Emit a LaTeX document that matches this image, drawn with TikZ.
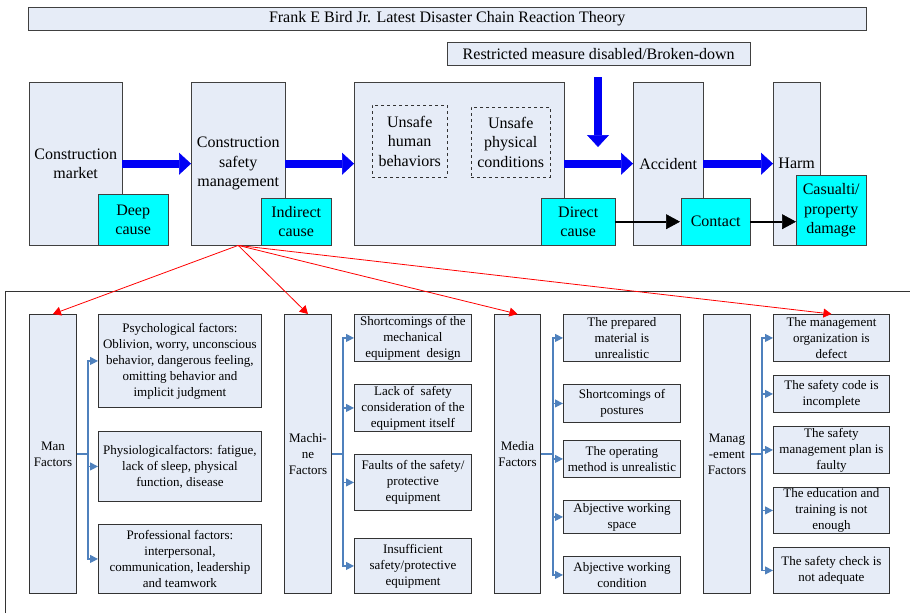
\documentclass[tikz,border=0pt]{standalone}
\usepackage{fontspec}
\setmainfont{Liberation Serif}
\usetikzlibrary{arrows.meta,positioning}
\definecolor{boxfill}{RGB}{230,236,247}
\definecolor{causecyan}{RGB}{0,255,255}
\definecolor{fatblue}{RGB}{0,0,245}
\definecolor{linkblue}{RGB}{79,129,189}

\begin{document}
\begin{tikzpicture}[x=1pt,y=-1pt]
\tikzstyle{box}=[draw=black!75,fill=boxfill,anchor=north west,inner sep=1pt,align=center,font=\fontsize{16}{19.5}\selectfont]
\tikzstyle{cause}=[box,fill=causecyan]
\tikzstyle{hazard}=[box,dashed,draw=black!80]
\tikzstyle{factor}=[box,draw=black!80,line width=0.9pt,font=\fontsize{13}{16}\selectfont]
\tikzstyle{fat}=[line width=8pt,fatblue,-{Triangle[length=12pt,width=22pt,line width=0.6pt]}]
\tikzstyle{push}=[line width=2.4pt,-{Triangle[length=14pt,width=15pt,line width=0.5pt]}]
\tikzstyle{lead}=[red,line width=0.8pt,-{Triangle[length=8pt,width=9pt]}]
\tikzstyle{link}=[linkblue,line width=1.2pt,-{Triangle[length=8pt,width=8pt]}]

\useasboundingbox (0,0) rectangle (910,613);

% chain of the theory
\node [box,minimum width=838pt,minimum height=23pt] (title) at (28,7) {Frank E Bird Jr. Latest Disaster Chain Reaction Theory};
\node [box,minimum width=303pt,minimum height=23pt] (restrict) at (447,42) {Restricted measure disabled/Broken-down};

\node [box,minimum width=93pt,minimum height=163pt] (cm) at (29,82) {Construction\\market};
\node [box,minimum width=94pt,minimum height=163pt] (csm) at (191,82) {Construction\\safety\\management};
\node [box,minimum width=210pt,minimum height=163pt] (unsafe) at (354,82) {};
\node [box,minimum width=70pt,minimum height=163pt] (acc) at (633,82) {Accident};
\node [box,minimum width=47pt,minimum height=163pt] (harm) at (773,82) {Harm};

\node [hazard,minimum width=75pt,minimum height=72pt] (uhb) at (372,105) {Unsafe\\human\\behaviors};
\node [hazard,minimum width=79pt,minimum height=70pt] (upc) at (471,107) {Unsafe\\physical\\conditions};

\node [cause,minimum width=70pt,minimum height=51pt] (deep) at (98,194) {Deep\\cause};
\node [cause,minimum width=70pt,minimum height=47pt] (indirect) at (261,198) {Indirect\\cause};
\node [cause,minimum width=74pt,minimum height=47pt] (direct) at (541,198) {Direct\\cause};

\coordinate (dtop) at (598,77);
\coordinate (dtip) at (598,147);

\draw [fat] (cm.east) -- (csm.west);
\draw [fat] (csm.east) -- (unsafe.west);
\draw [fat] (unsafe.east) -- (acc.west);
\draw [fat] (acc.east) -- (harm.west);
\draw [fat] (dtop) -- (dtip);

\draw [push] (direct.east) -- (acc.west |- direct.east) -- ++(47pt,0);
\node [cause,minimum width=69pt,minimum height=47pt] (contact) at (681,198) {Contact};
\node [cause,minimum width=70pt,minimum height=70pt] (casualty) at (796,175) {Casualti/\\property\\damage};
\draw [push] (contact.east) -- (contact.east -| casualty.west);

% the four factors
\draw [black!80,line width=0.9pt] (5,613) -- (5,291) -- (910,291);

\node [factor,minimum width=47pt,minimum height=279pt] (man) at (29,314) {Man\\Factors};
\node [factor,minimum width=163pt,minimum height=93pt] (man1) at (98,314) {Psychological factors:\\Oblivion, worry, unconscious\\behavior, dangerous feeling,\\omitting behavior and\\implicit judgment};
\node [factor,minimum width=163pt,minimum height=70pt] (man2) at (98,431) {Physiologicalfactors: fatigue,\\lack of sleep, physical\\function, disease};
\node [factor,minimum width=163pt,minimum height=69pt] (man3) at (98,524) {Professional factors:\\interpersonal,\\communication, leadership\\and teamwork};

\node [factor,minimum width=47pt,minimum height=279pt] (mach) at (284,314) {Machi-\\ne\\Factors};
\node [factor,minimum width=117pt,minimum height=47pt] (mach1) at (354,314) {Shortcomings of the\\mechanical\\equipment\ \ design};
\node [factor,minimum width=117pt,minimum height=47pt] (mach2) at (354,384) {Lack of\ \ safety\\consideration of the\\equipment itself};
\node [factor,minimum width=117pt,minimum height=56pt] (mach3) at (354,454) {Faults of the safety/\\protective\\equipment};
\node [factor,minimum width=117pt,minimum height=55pt] (mach4) at (354,538) {Insufficient\\safety/protective\\equipment};

\node [factor,minimum width=46pt,minimum height=279pt] (media) at (494,314) {Media\\Factors};
\node [factor,minimum width=117pt,minimum height=47pt] (media1) at (563,314) {The prepared\\material is\\unrealistic};
\node [factor,minimum width=117pt,minimum height=38pt] (media2) at (563,384) {Shortcomings of\\postures};
\node [factor,minimum width=117pt,minimum height=37pt] (media3) at (563,440) {The operating\\method is unrealistic};
\node [factor,minimum width=117pt,minimum height=33pt] (media4) at (563,500) {Abjective working\\space};
\node [factor,minimum width=117pt,minimum height=37pt] (media5) at (563,556) {Abjective working\\condition};

\node [factor,minimum width=47pt,minimum height=279pt] (mgmt) at (703,314) {Manag\\-ement\\Factors};
\node [factor,minimum width=116pt,minimum height=47pt] (mgmt1) at (773,314) {The management\\organization is\\defect};
\node [factor,minimum width=116pt,minimum height=37pt] (mgmt2) at (773,375) {The safety code is\\incomplete};
\node [factor,minimum width=116pt,minimum height=47pt] (mgmt3) at (773,426) {The safety\\management plan is\\faulty};
\node [factor,minimum width=116pt,minimum height=46pt] (mgmt4) at (773,487) {The education and\\training is not\\enough};
\node [factor,minimum width=116pt,minimum height=46pt] (mgmt5) at (773,547) {The safety check is\\not adequate};

\foreach \k in {1,2,3}
  \draw [link] (man.east) -- ++(11pt,0) |- (man\k.west);
\foreach \k in {1,...,4}
  \draw [link] (mach.east) -- ++(11pt,0) |- (mach\k.west);
\foreach \k in {1,...,5}
  \draw [link] (media.east) -- ++(12pt,0) |- (media\k.west);
\foreach \k in {1,...,5}
  \draw [link] (mgmt.east) -- ++(11pt,0) |- (mgmt\k.west);

\draw [lead] (csm.south) -- (man.north);
\draw [lead] (csm.south) -- (mach.north);
\draw [lead] (csm.south) -- (media.north);
\draw [lead] (csm.south) -- (mgmt1.north);

\end{tikzpicture}
\end{document}
